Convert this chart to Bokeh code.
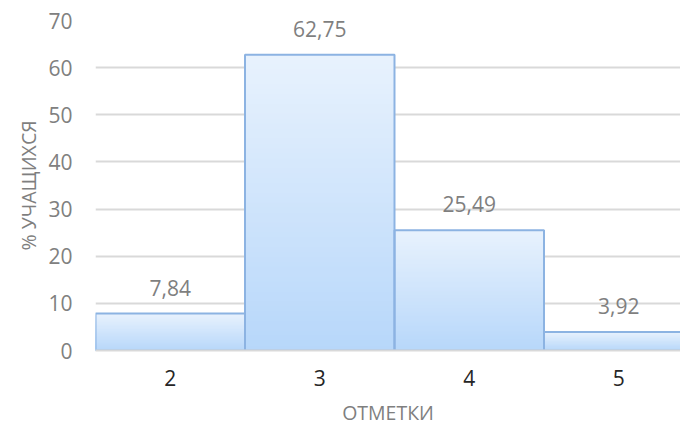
from bokeh.plotting import figure
from bokeh.models import Range1d, FixedTicker, Label
from bokeh.embed import file_html
from bokeh.resources import INLINE

grades = ["2", "3", "4", "5"]
percents = [7.84, 62.75, 25.49, 3.92]
value_labels = ["7,84", "62,75", "25,49", "3,92"]
y_ticks = [0, 10, 20, 30, 40, 50, 60, 70]

FONT = "Open Sans"
N = 60
top_c = (0xE8, 0xF2, 0xFD)
bot_c = (0xB7, 0xD7, 0xFA)

p = figure(width=680, height=429, output_backend="svg", toolbar_location=None,
           x_range=Range1d(0.5, 4.413), y_range=Range1d(0, 70),
           min_border_left=95, min_border_right=0, min_border_top=20,
           min_border_bottom=79)
p.outline_line_color = None
p.background_fill_color = "white"

xs = list(range(1, len(grades) + 1))

# gradient: overlapping slices, each reaching down to the base (no seams)
l, r, t, b, c = [], [], [], [], []
for xi, v in zip(xs, percents):
    for k in range(N):
        f0 = k / N
        l.append(xi - 0.5); r.append(xi + 0.5)
        t.append(v * (1 - f0)); b.append(0)
        fm = (k + 0.5) / N
        col = tuple(int(round(top_c[i] + (bot_c[i] - top_c[i]) * fm)) for i in range(3))
        c.append("#%02x%02x%02x" % col)
p.quad(left=l, right=r, top=t, bottom=b, fill_color=c, line_color=None)
p.quad(left=[x - 0.5 for x in xs], right=[x + 0.5 for x in xs], top=percents,
       bottom=[0] * len(xs), fill_color=None, line_color="#8cb3e2", line_width=2)

for xi, v, s in zip(xs, percents, value_labels):
    p.add_layout(Label(x=xi, y=v, text=s, text_align="center", text_baseline="alphabetic",
                       y_offset=26, text_font=FONT, text_font_size="21px",
                       text_color="#7f7f7f"))

p.xaxis.ticker = FixedTicker(ticks=xs)
p.xaxis.major_label_overrides = {x: g for x, g in zip(xs, grades)}
p.xaxis.major_tick_line_color = None
p.xaxis.minor_tick_line_color = None
p.xaxis.axis_line_color = "#d9d9d9"
p.xaxis.axis_line_width = 2
p.xaxis.major_label_text_font = FONT
p.xaxis.major_label_text_font_size = "21px"
p.xaxis.major_label_text_color = "#262626"
p.xaxis.major_label_standoff = 13
p.xaxis.axis_label = "ОТМЕТКИ"
p.xaxis.axis_label_text_font = FONT
p.xaxis.axis_label_text_font_style = "normal"
p.xaxis.axis_label_text_font_size = "19.5px"
p.xaxis.axis_label_text_color = "#7f7f7f"
p.xaxis.axis_label_standoff = 10

p.yaxis.ticker = FixedTicker(ticks=y_ticks)
p.yaxis.major_tick_line_color = None
p.yaxis.minor_tick_line_color = None
p.yaxis.axis_line_color = None
p.yaxis.major_label_text_font = FONT
p.yaxis.major_label_text_font_size = "21px"
p.yaxis.major_label_text_color = "#808080"
p.yaxis.major_label_standoff = 17
p.yaxis.axis_label = "% УЧАЩИХСЯ"
p.yaxis.axis_label_text_font = FONT
p.yaxis.axis_label_text_font_style = "normal"
p.yaxis.axis_label_text_font_size = "19.5px"
p.yaxis.axis_label_text_color = "#7f7f7f"
p.yaxis.axis_label_standoff = 3

p.xgrid.grid_line_color = None
p.ygrid.grid_line_color = "#d9d9d9"
p.ygrid.grid_line_width = 2

try:
    from bokeh.models import HTMLLabel
    p.add_layout(HTMLLabel(x=-94, y=-27, x_units="screen", y_units="screen", text="по",
                           text_font="Liberation Serif",
                           text_font_style="bold italic", text_font_size="32px",
                           text_color="black", text_align="left",
                           text_baseline="alphabetic"))
except Exception:
    pass

open("out.html", "w").write(file_html(p, INLINE))
